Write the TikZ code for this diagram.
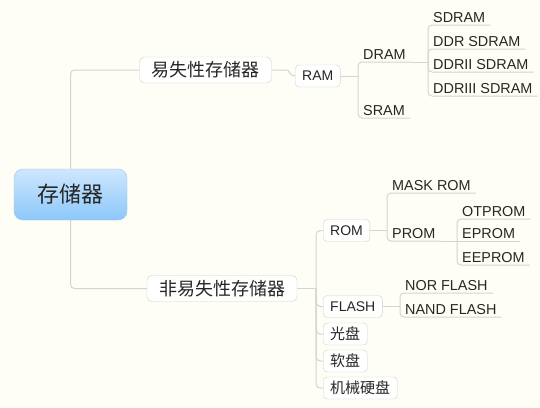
\documentclass[tikz,border=0pt]{standalone}
\usepackage{fontspec}
\setmainfont{Liberation Sans}
\newfontfamily\cjk{Noto Sans CJK SC}
\definecolor{bgcol}{RGB}{254,253,246}
\definecolor{linkcol}{RGB}{214,212,204}
\definecolor{boxline}{RGB}{208,208,204}
\definecolor{roottop}{RGB}{206,231,254}
\definecolor{rootbot}{RGB}{140,199,250}
\definecolor{rootline}{RGB}{160,196,228}
\definecolor{txt}{RGB}{38,38,38}

\begin{document}
\begin{tikzpicture}[x=1pt,y=-1pt,
    root/.style={shape=rectangle,rounded corners=9pt,draw=rootline,top color=roottop,bottom color=rootbot,minimum width=113pt,minimum height=51pt,font=\cjk\fontsize{22}{24}\selectfont,text=txt},
    mainbox/.style={shape=rectangle,rounded corners=5pt,draw=boxline,fill=white,inner xsep=12pt,minimum height=26pt,font=\cjk\fontsize{18}{20}\selectfont,text=txt},
    subbox/.style={shape=rectangle,rounded corners=4pt,draw=boxline,fill=white,inner xsep=7pt,minimum height=22pt,anchor=west,font=\fontsize{14}{16}\selectfont,text=txt},
    subcjk/.style={subbox,font=\cjk\fontsize{15}{17}\selectfont},
    leaf/.style={anchor=south west,inner xsep=5pt,inner ysep=2pt,text depth=0pt,font=\fontsize{14.4}{16}\selectfont,text=txt},
    link/.style={draw=linkcol,line width=1pt,rounded corners=4pt}]
        \useasboundingbox (0,0) rectangle (540,407);
        \fill[bgcol] (0,0) rectangle (540,407);
        \node[root] (store) at (70.5,194.5) {存储器};
        \node[mainbox] (vol) at (205.5,70) {易失性存储器};
        \node[mainbox] (nonvol) at (222,288.5) {非易失性存储器};
        % volatile side
        \node[subbox] (ram) at (295,76) {RAM};
        \node[leaf] (dram) at (358,62) {DRAM};
        \node[leaf] (sram) at (358,118) {SRAM};
        \node[leaf] (sdram) at (428,25) {SDRAM};
        \node[leaf] (ddr) at (428,49) {DDR SDRAM};
        \node[leaf] (ddr2) at (428,72) {DDRII SDRAM};
        \node[leaf] (ddr3) at (428,96) {DDRIII SDRAM};
        % non-volatile side
        \node[subbox] (rom) at (323,230.5) {ROM};
        \node[subbox] (flash) at (323,306.5) {FLASH};
        \node[subcjk] (cd) at (323,334) {光盘};
        \node[subcjk] (floppy) at (323,361) {软盘};
        \node[subcjk] (hdd) at (323,388) {机械硬盘};
        \node[leaf] (mask) at (387,193) {MASK ROM};
        \node[leaf] (prom) at (387,241) {PROM};
        \node[leaf] (otp) at (457,219) {OTPROM};
        \node[leaf] (eprom) at (457,241) {EPROM};
        \node[leaf] (eeprom) at (457,265) {EEPROM};
        \node[leaf] (nor) at (400,293) {NOR FLASH};
        \node[leaf] (nand) at (400,317) {NAND FLASH};
        % links
        \draw[link] (store.north) |- (vol.west);
        \draw[link] (store.south) |- (nonvol.west);
        \draw[link] (vol.east) -- ++(12,0) to[out=0,in=180] (ram.west);
        \draw[link] (ram.east) -- (ram.east -| dram.south west) coordinate (ramfork);
        \draw[link] (ramfork) |- (dram.south east);
        \draw[link] (ramfork) |- (sram.south east);
        \draw[link] (dram.south east) -- (dram.south east -| sdram.south west) coordinate (dramfork);
        \draw[link] (dramfork) |- (sdram.south east);
        \draw[link] (dramfork) |- (ddr.south east);
        \draw[link] (dramfork) |- (ddr2.south east);
        \draw[link] (dramfork) |- (ddr3.south east);
        \draw[link] (nonvol.east) -- ++(19,0) coordinate (nvfork);
        \draw[link] (nvfork) |- (rom.west);
        \draw[link] (nvfork) |- (flash.west);
        \draw[link] (nvfork) |- (cd.west);
        \draw[link] (nvfork) |- (floppy.west);
        \draw[link] (nvfork) |- (hdd.west);
        \draw[link] (rom.east) -- (rom.east -| mask.south west) coordinate (romfork);
        \draw[link] (romfork) |- (mask.south east);
        \draw[link] (romfork) |- (prom.south east);
        \draw[link] (prom.south east) -- (prom.south east -| otp.south west) coordinate (promfork);
        \draw[link] (promfork) |- (otp.south east);
        \draw[link] (promfork) -- (eprom.south east);
        \draw[link] (promfork) |- (eeprom.south east);
        \draw[link] (flash.east) -- (flash.east -| nor.south west) coordinate (flashfork);
        \draw[link] (flashfork) |- (nor.south east);
        \draw[link] (flashfork) |- (nand.south east);
    \end{tikzpicture}
\end{document}
